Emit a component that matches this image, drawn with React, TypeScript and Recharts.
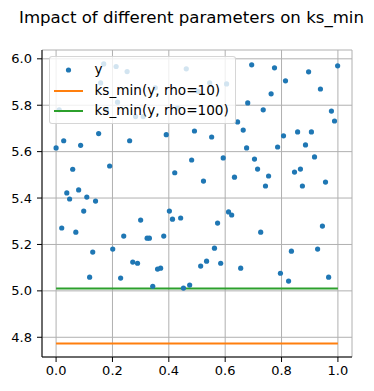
import { CartesianGrid, ComposedChart, Legend, Line, Scatter, XAxis, YAxis } from "recharts";

const xs = [
  0.169, 0.213, 0.252, 0.158, 0.218, 0.011, 0.179, 0.282, 0.309, 0.151,
  0.027, 0.261, 0.087, 0.0, 0.059, 0.19, 0.462, 0.545, 0.605, 0.504,
  0.352, 0.431, 0.68, 0.644, 0.664, 0.391, 0.491, 0.552, 0.676, 0.481,
  0.593, 0.421, 0.633, 0.694, 0.775, 0.999, 0.896, 0.814, 0.938, 0.763,
  0.735, 0.977, 0.988, 0.857, 0.906, 0.807, 0.786, 0.885, 0.917, 0.704,
  0.715, 0.846, 0.867, 0.754, 0.038, 0.08, 0.048, 0.109, 0.14, 0.098,
  0.02, 0.07, 0.3, 0.24, 0.13, 0.201, 0.272, 0.289, 0.119, 0.229,
  0.523, 0.402, 0.413, 0.442, 0.612, 0.623, 0.573, 0.323, 0.331, 0.382,
  0.562, 0.534, 0.584, 0.513, 0.655, 0.36, 0.371, 0.343, 0.452, 0.474,
  0.743, 0.874, 0.956, 0.945, 0.726, 0.835, 0.928, 0.796, 0.967, 0.825,
];
const ys = [
  5.978, 5.967, 5.945, 5.896, 5.813, 5.78, 5.78, 5.751, 5.751, 5.678,
  5.647, 5.647, 5.627, 5.616, 5.524, 5.538, 5.957, 5.896, 5.892, 5.86,
  5.875, 5.788, 5.81, 5.728, 5.693, 5.673, 5.689, 5.663, 5.616, 5.564,
  5.573, 5.509, 5.49, 5.974, 5.961, 5.97, 5.944, 5.905, 5.87, 5.849,
  5.78, 5.775, 5.732, 5.685, 5.685, 5.668, 5.62, 5.629, 5.577, 5.568,
  5.525, 5.512, 5.525, 5.495, 5.422, 5.435, 5.396, 5.404, 5.387, 5.344,
  5.271, 5.253, 5.305, 5.236, 5.167, 5.18, 5.124, 5.119, 5.059, 5.055,
  5.473, 5.344, 5.309, 5.314, 5.34, 5.327, 5.292, 5.227, 5.227, 5.236,
  5.184, 5.128, 5.119, 5.107, 5.098, 5.094, 5.098, 5.02, 5.012, 5.025,
  5.452, 5.452, 5.469, 5.279, 5.253, 5.171, 5.18, 5.076, 5.059, 5.042,
];

const lineXs = [0, 1];
const ksRho10 = 4.773;
const ksRho100 = 5.01;

const xTicks = [0, 0.2, 0.4, 0.6, 0.8, 1.0];
const yTicks = [4.8, 5.0, 5.2, 5.4, 5.6, 5.8, 6.0];

const points = xs.map((x, i) => ({ x, y: ys[i] }));
const rho10 = lineXs.map((x) => ({ x, y: ksRho10 }));
const rho100 = lineXs.map((x) => ({ x, y: ksRho100 }));

const FONT = "'DejaVu Sans', sans-serif";
const fmt = (v: number) => v.toFixed(1);

function Dot(props: any) {
  return <circle cx={props.cx} cy={props.cy} r={2.6} fill="#1f77b4" />;
}

function LegendBox({ payload }: any) {
  // matplotlib order: scatter first, then the lines in plot order
  const items = [...(payload || [])].sort(
    (a: any, b: any) => (a.type === "line" ? 1 : 0) - (b.type === "line" ? 1 : 0)
  );
  return (
    <div
      style={{
        width: 187,
        height: 68,
        boxSizing: "border-box",
        background: "rgba(255,255,255,0.8)",
        border: "1px solid rgba(204,204,204,0.8)",
        borderRadius: 3,
        paddingTop: 3,
        fontFamily: FONT,
        fontSize: 13.6,
        color: "#000",
      }}
    >
      {items.map((entry: any) => (
        <div key={entry.value} style={{ display: "flex", alignItems: "center", height: 20.5 }}>
          <svg width={41} height={20} style={{ marginLeft: 3.5, flex: "none" }}>
            {entry.type === "line" ? (
              <line x1={0} x2={29} y1={10} y2={10} stroke={entry.color} strokeWidth={2} />
            ) : (
              <circle cx={14.5} cy={10} r={2.6} fill={entry.color} />
            )}
          </svg>
          <span style={{ whiteSpace: "nowrap", lineHeight: 1 }}>{entry.value}</span>
        </div>
      ))}
    </div>
  );
}

export default function App() {
  return (
    <div style={{ position: "absolute", left: 0, top: 0, width: 374, height: 391, background: "#fff", fontFamily: FONT }}>
      <div
        style={{
          position: "absolute",
          left: 0,
          top: 10,
          width: 383,
          textAlign: "center",
          fontSize: 16.6,
          lineHeight: 1,
          color: "#000",
          whiteSpace: "nowrap",
        }}
      >
        Impact of different parameters on ks_min
      </div>
      <ComposedChart width={374} height={391} margin={{ top: 50, right: 22, bottom: 0, left: 0 }}>
        <CartesianGrid stroke="#b0b0b0" strokeWidth={1} />
        <XAxis
          type="number"
          dataKey="x"
          domain={[-0.05, 1.05]}
          ticks={xTicks}
          tickFormatter={fmt}
          allowDataOverflow
          height={34}
          tickSize={5}
          tickMargin={4}
          axisLine={{ stroke: "#000" }}
          tickLine={{ stroke: "#000" }}
          tick={{ fill: "#000", fontSize: 13 }}
        />
        <XAxis xAxisId="top" type="number" orientation="top" domain={[-0.05, 1.05]} height={0} tick={false} tickLine={false} axisLine={{ stroke: "#000" }} />
        <YAxis
          type="number"
          dataKey="y"
          domain={[4.715, 6.038]}
          ticks={yTicks}
          tickFormatter={fmt}
          allowDataOverflow
          width={42}
          tickSize={5}
          tickMargin={5}
          axisLine={{ stroke: "#000" }}
          tickLine={{ stroke: "#000" }}
          tick={{ fill: "#000", fontSize: 13 }}
        />
        <YAxis yAxisId="right" type="number" orientation="right" domain={[4.715, 6.038]} width={0} tick={false} tickLine={false} axisLine={{ stroke: "#000" }} />
        <Scatter name="y" data={points} dataKey="y" fill="#1f77b4" shape={Dot} isAnimationActive={false} />
        <Line name="ks_min(y, rho=10)" data={rho10} dataKey="y" type="linear" stroke="#ff7f0e" strokeWidth={2} dot={false} activeDot={false} isAnimationActive={false} />
        <Line name="ks_min(y, rho=100)" data={rho100} dataKey="y" type="linear" stroke="#2ca02c" strokeWidth={2} dot={false} activeDot={false} isAnimationActive={false} />
        <Legend
          layout="horizontal"
          align="center"
          verticalAlign="middle"
          content={<LegendBox />}
          wrapperStyle={{ left: 49, top: 56, width: 187, height: 68 }}
        />
      </ComposedChart>
    </div>
  );
}
